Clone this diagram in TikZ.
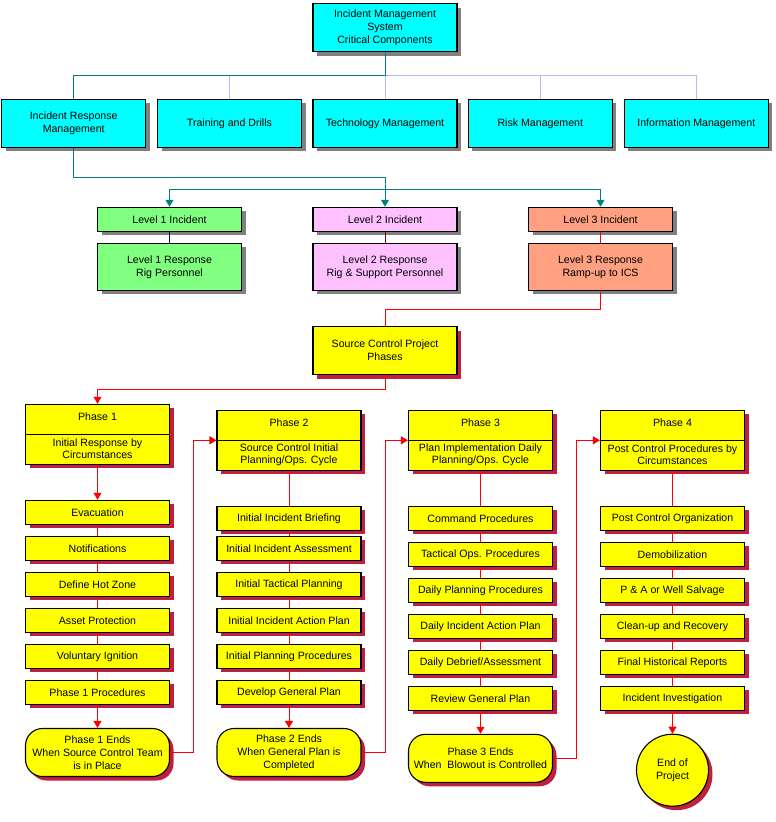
\documentclass[tikz,border=0pt]{standalone}
\usepackage{fontspec}
\setmainfont{Liberation Sans}
\usetikzlibrary{shadows,arrows.meta}
\definecolor{tealc}{RGB}{0,128,128}
\definecolor{lbluec}{RGB}{184,184,255}
\definecolor{navyc}{RGB}{0,0,128}
\definecolor{dredc}{RGB}{128,0,0}
\definecolor{crimc}{RGB}{192,32,64}
\definecolor{grayc}{RGB}{128,128,128}
\definecolor{cyanc}{RGB}{0,255,255}
\definecolor{greenc}{RGB}{128,255,128}
\definecolor{pinkc}{RGB}{255,192,255}
\definecolor{salmonc}{RGB}{255,160,128}
\definecolor{yellowc}{RGB}{255,255,0}
\begin{document}
\begin{tikzpicture}[x=1pt,y=-1pt,
  box/.style={draw=black,line width=1.1pt,minimum width=144pt,inner sep=0pt,align=center,
    font=\fontsize{10.6}{13}\selectfont},
  txt/.style={inner sep=0pt,align=center,font=\fontsize{10.6}{12}\selectfont},
  gshadow/.style={drop shadow={shadow xshift=4pt,shadow yshift=-4pt,opacity=1,fill=grayc}},
  rshadow/.style={drop shadow={shadow xshift=4pt,shadow yshift=-4pt,opacity=1,fill=crimc}},
  cbox/.style={box,gshadow,fill=cyanc,minimum height=48pt},
  lbox/.style={box,gshadow,minimum height=24pt},
  rbox/.style={box,gshadow,minimum height=47pt},
  ybox/.style={box,rshadow,fill=yellowc,minimum height=24pt},
  pbox/.style={box,rshadow,fill=yellowc,minimum height=60pt},
  obox/.style={box,rshadow,fill=yellowc,minimum height=48pt,rounded corners=17pt},
  cend/.style={box,rshadow,fill=yellowc,circle,minimum size=72pt},
  conn/.style={line width=1pt},
  tealline/.style={conn,draw=tealc},
  lbline/.style={conn,draw=lbluec},
  redline/.style={conn,draw=red},
  tarr/.style={-{Triangle[width=8pt,length=7pt]}},
]
\useasboundingbox (0,0) rectangle (776,822);

% top level
\node[cbox] (top) at (385,27.5) {Incident Management\\System\\Critical Components};
\node[cbox] (irm) at (73.7,123.3) {Incident Response\\Management};
\node[cbox] (trn) at (229.5,123.3) {Training and Drills};
\node[cbox] (tec) at (385,123.3) {Technology Management};
\node[cbox] (rsk) at (540.3,123.3) {Risk Management};
\node[cbox] (inf) at (696.3,123.3) {Information Management};

\coordinate (bus) at (385,75);
\draw[lbline] (bus) -| (trn.north);
\draw[lbline] (bus) -- (tec.north);
\draw[lbline] (bus) -| (rsk.north);
\draw[lbline] (bus) -| (inf.north);
\draw[tealline] (top.south) -- (bus) -| (irm.north);

% levels
\node[lbox,fill=greenc] (l1i) at (169.5,219.3) {Level 1 Incident};
\node[rbox,fill=greenc] (l1r) at (169.5,266.8) {Level 1 Response\\Rig Personnel};
\node[lbox,fill=pinkc] (l2i) at (385,219.3) {Level 2 Incident};
\node[rbox,fill=pinkc] (l2r) at (385,266.8) {Level 2 Response\\Rig \& Support Personnel};
\node[lbox,fill=salmonc] (l3i) at (600.5,219.3) {Level 3 Incident};
\node[rbox,fill=salmonc] (l3r) at (600.5,266.8) {Level 3 Response\\Ramp-up to ICS};

\coordinate (j1) at (73.7,177.3);
\coordinate (j2) at (385,189.3);
\draw[tealline,tarr] (irm.south) -- (j1) -| (l2i.north);
\draw[tealline,tarr] (j2) -| (l1i.north);
\draw[tealline,tarr] (j2) -| (l3i.north);
\draw[conn,draw=navyc] (l1i.south) -- (l1r.north);
\draw[conn,draw=dredc] (l2i.south) -- (l2r.north);
\draw[redline] (l3i.south) -- (l3r.north);

\node[box,rshadow,fill=yellowc,minimum height=48pt] (src) at (385,350.5) {Source Control Project\\Phases};
\coordinate (j3) at (600.5,309.3);
\draw[redline] (l3r.south) -- (j3) -| (src.north);

% phase boxes
\node[pbox] (p1) at (97.5,434.3) {};
\node[pbox] (p2) at (289,440.3) {};
\node[pbox] (p3) at (480.5,440.3) {};
\node[pbox] (p4) at (672.5,440.3) {};
\foreach \p in {p1,p2,p3,p4} \draw[line width=1.1pt] (\p.west) -- (\p.east);
\node[txt] (p1a) at (97.5,416.3) {Phase 1};
\node[txt] (p1b) at (97.5,448.3) {Initial Response by\\Circumstances};
\node[txt] (p2a) at (289,422.3) {Phase 2};
\node[txt] (p2b) at (289,454.3) {Source Control Initial\\Planning/Ops. Cycle};
\node[txt] (p3a) at (480.5,422.3) {Phase 3};
\node[txt] (p3b) at (480.5,454.3) {Plan Implementation Daily\\Planning/Ops. Cycle};
\node[txt] (p4a) at (672.5,422.3) {Phase 4};
\node[txt] (p4b) at (672.5,454.3) {Post Control Procedures by\\Circumstances};

\coordinate (j4) at (385,389.3);
\draw[redline,tarr] (src.south) -- (j4) -| (p1.north);

% phase 1 items
\node[ybox] (a1) at (97.5,512.3) {Evacuation};
\node[ybox] (a2) at (97.5,548.3) {Notifications};
\node[ybox] (a3) at (97.5,584.3) {Define Hot Zone};
\node[ybox] (a4) at (97.5,620.3) {Asset Protection};
\node[ybox] (a5) at (97.5,656.3) {Voluntary Ignition};
\node[ybox] (a6) at (97.5,692.3) {Phase 1 Procedures};
\node[obox] (o1) at (97.5,752.5) {Phase 1 Ends\\When Source Control Team\\is in Place};

% phase 2 items
\node[ybox] (b1) at (289,518.3) {Initial Incident Briefing};
\node[ybox] (b2) at (289,548.3) {Initial Incident Assessment};
\node[ybox] (b3) at (289,584.3) {Initial Tactical Planning};
\node[ybox] (b4) at (289,620.3) {Initial Incident Action Plan};
\node[ybox] (b5) at (289,656.3) {Initial Planning Procedures};
\node[ybox] (b6) at (289,692.3) {Develop General Plan};
\node[obox] (o2) at (289,752.5) {Phase 2 Ends\\When General Plan is\\Completed};

% phase 3 items
\node[ybox] (c1) at (480.5,518.3) {Command Procedures};
\node[ybox] (c2) at (480.5,554.3) {Tactical Ops. Procedures};
\node[ybox] (c3) at (480.5,590.3) {Daily Planning Procedures};
\node[ybox] (c4) at (480.5,626.3) {Daily Incident Action Plan};
\node[ybox] (c5) at (480.5,662.3) {Daily Debrief/Assessment};
\node[ybox] (c6) at (480.5,698.3) {Review General Plan};
\node[obox] (o3) at (480.5,758.3) {Phase 3 Ends\\When\ \ Blowout is Controlled};

% phase 4 items
\node[ybox] (d1) at (672.5,518.3) {Post Control Organization};
\node[ybox] (d2) at (672.5,554.3) {Demobilization};
\node[ybox] (d3) at (672.5,590.3) {P \& A or Well Salvage};
\node[ybox] (d4) at (672.5,626.3) {Clean-up and Recovery};
\node[ybox] (d5) at (672.5,662.3) {Final Historical Reports};
\node[ybox] (d6) at (672.5,698.3) {Incident Investigation};
\node[cend] (o4) at (672.5,770.2) {End of\\Project};

% vertical connectors
\draw[redline,tarr] (p1.south) -- (a1.north);
\draw[redline] (p2.south) -- (b1.north);
\draw[redline] (p3.south) -- (c1.north);
\draw[redline] (p4.south) -- (d1.north);
\foreach \s in {a,b,c,d}{
  \draw[redline] (\s1.south) -- (\s2.north);
  \draw[redline] (\s2.south) -- (\s3.north);
  \draw[redline] (\s3.south) -- (\s4.north);
  \draw[redline] (\s4.south) -- (\s5.north);
  \draw[redline] (\s5.south) -- (\s6.north);
}
\draw[redline,tarr] (a6.south) -- (o1.north);
\draw[redline,tarr] (b6.south) -- (o2.north);
\draw[redline,tarr] (c6.south) -- (o3.north);
\draw[redline,tarr] (d6.south) -- (o4.north);

% phase transitions
\coordinate (k1) at (193.7,752.5);
\coordinate (k2) at (385,752.5);
\coordinate (k3) at (576.7,758.3);
\draw[redline,tarr] (o1.east) -- (k1) |- (p2.west);
\draw[redline,tarr] (o2.east) -- (k2) |- (p3.west);
\draw[redline,tarr] (o3.east) -- (k3) |- (p4.west);
\end{tikzpicture}
\end{document}
